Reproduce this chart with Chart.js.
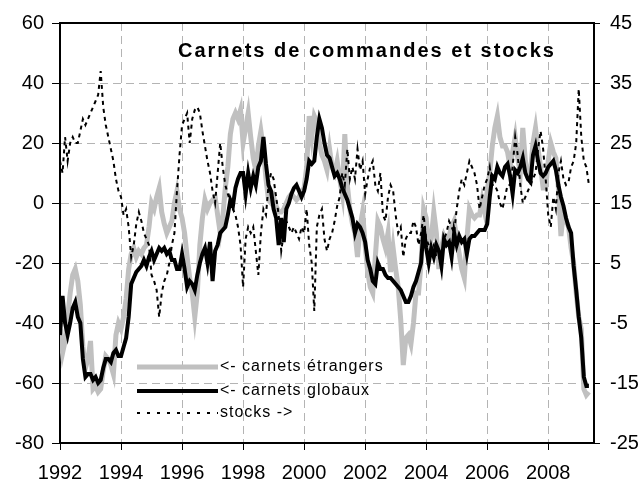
<!DOCTYPE html>
<html>
<head>
<meta charset="utf-8">
<script src="https://cdn.jsdelivr.net/npm/chart.js@4.4.0/dist/chart.umd.min.js"></script>
<style>
html, body { margin: 0; padding: 0; background: #fff; }
</style>
</head>
<body>
<canvas id="carnets_canvas" width="644" height="480"></canvas>
<script>
// monthly series, starting January 1992
var startYear = 1992;
var xTicks = [1992, 1994, 1996, 1998, 2000, 2002, 2004, 2006, 2008];
var leftTicks = [-80, -60, -40, -20, 0, 20, 40, 60];
var rightTicks = [-25, -15, -5, 5, 15, 25, 35, 45];
var titleText = 'Carnets de commandes et stocks';
var seriesNames = ['<- carnets étrangers', '<- carnets globaux', 'stocks ->'];

var etrangers = [
  -42, -50, -46, -38, -30, -24, -22, -26, -34, -48, -55, -52,
  -46, -62, -61, -63, -62, -56, -51, -52, -54, -57, -44, -40,
  -42, -38, -32, -22, -17, -15, -18, -16, -17, -15, -14, -8,
  0, -2, 2, 5, -3, -7, -10, -8, -6, 0, 4, -2,
  -5, -10, -18, -25, -30, -38, -30, -14, -5, 1, -2, 0,
  1, 2, -4, -10, -5, 5, 12, 23, 28, 30, 28, 31,
  20, 25, 30, 22, 15, 11, 19, 24, 18, 8, 1, 0,
  2, -1, -3, -3, -2, 0, 2, 3, 2, 1, 2, 4,
  5, 12, 29, 22, 29, 27, 20, 16, 14, 11, 18, 12,
  10, 14, 8, 3, 23, 6, -2, -7, -10, -18, -8, -3,
  -14, -23, -28, -30, -18, -6, -8, -12, -15, -10, -23, -15,
  -22, -28, -39, -54, -45, -44, -47, -40, -30, -30, -20, -2,
  -5, -15, -12, -3, -10, -22, -15, -11, -13, -11, -8, -6,
  -12, -17, -22, -25, -12, -2, -4, -5, -4, -4, 1, -3,
  4, 10, 19, 25, 29, 22, 19, 19, 17, 12, 17, 22,
  15, 10, 25, 14, 9, 10, 20, 25, 18, 12, 5, 5,
  14, 20, 17, 15, 5, -11, -3, -6, -8, -15, -20, -30,
  -38, -42, -62, -64, -63
];

var globaux = [
  -44, -31, -40, -44, -40, -35, -33, -38, -40, -52, -58, -57,
  -57, -59, -58, -60, -59, -55, -52, -52, -53, -50, -49, -51,
  -51, -48, -45, -38, -27, -25, -23, -22, -21, -19, -21, -18,
  -16, -19, -17, -15, -16, -15, -17, -16, -19, -19, -22, -22,
  -17, -22, -28, -26, -27, -29, -24, -20, -17, -15, -20, -13,
  -26, -16, -14, -10, -9, -8, -4, 1, -1, 5, 8, 10,
  10, 3, 10, 5, 9, 6, 12, 14, 22, 13, 6, 4,
  -2, -5, -14, -5, -13, -2, 0, 3, 5, 6, 4, 2,
  4, 8, 14, 13, 14, 22, 28, 25, 20, 16, 15, 12,
  9, 10, 8, 5, 3, 1, -2, -5, -10, -7, -8, -10,
  -13, -19, -22, -26, -27, -20, -22, -22, -24, -25, -25, -26,
  -27, -28, -29, -31, -33, -33, -31, -28, -26, -23, -20, -8,
  -15, -20, -15, -18, -14, -16, -21, -12, -14, -13, -18, -10,
  -14, -11, -13, -12, -17, -12, -11, -11, -10, -9, -9, -9,
  -7, 2, 9, 8, 12, 10, 9, 12, 13, 9, 3, 11,
  10, 12, 15, 10, 8, 7, 16, 19, 14, 10, 9, 10,
  12, 13, 14, 11, 6, 2, -1, -5, -8, -10, -21, -29,
  -38, -45, -58, -61, -61
];

var stocks = [
  22, 20, 26, 22, 25, 26, 25, 25, 27, 29, 28, 29,
  30, 31, 32, 33, 37, 31, 28, 26, 24, 22, 19, 17,
  16, 13, 14, 11, 6, 8, 11.5, 13.5, 12, 10, 9, 8,
  3, 2, 0.5, -4, 0, 2, 3, 5, 8, 10, 17, 23,
  28, 29, 30, 25, 29, 30.5, 31, 30, 27, 24.5, 22, 20,
  17, 15, 20, 25, 21, 18, 16.5, 15, 14, 13, 11, 8,
  1, 9, 11, 10, 11, 7, 3, 10, 14, 13, 18, 20,
  19, 16, 13, 7, 10, 12, 11, 10, 11, 10, 9, 11,
  10, 14, 8, 5, -3, 11, 13, 14, 9, 7, 9, 10,
  12, 14.5, 16, 20, 18, 24, 19, 21, 19, 24, 20.5, 22,
  16.5, 19, 21, 22, 18, 17, 20, 13, 12, 16, 18, 17,
  13, 10, 11, 6, 9, 10, 10, 12, 11, 8, 10, 13,
  9, 8, 7, 8, 6, 6, 5, 9, 10, 12, 11, 10,
  14, 17, 19, 18, 20, 22, 21, 20, 18, 14, 16, 18,
  19, 21, 18, 18, 17, 15, 14, 16, 18, 18, 21, 26,
  23, 18, 15, 16, 17, 18, 19, 20, 24, 27, 24, 19,
  13, 11, 16, 14, 20, 22, 19, 18, 18.5, 21, 22, 25,
  34, 26, 22, 21, 18
];

function toPoints(arr) {
  return arr.map(function (v, i) { return { x: startYear + i / 12, y: v }; });
}

var fontFamily = '"Liberation Sans", Arial, sans-serif';
Chart.defaults.font.family = fontFamily;
Chart.defaults.font.size = 20;
Chart.defaults.color = '#000';

var gridColor = '#b4b4b4';

// title, legend and top frame drawn inside the plot area
var decorPlugin = {
  id: 'decor',
  afterDraw: function (chart) {
    var ctx = chart.ctx;
    var a = chart.chartArea;
    ctx.save();
    ctx.setLineDash([]);
    ctx.strokeStyle = '#000';
    ctx.lineWidth = 2;
    ctx.beginPath();
    ctx.moveTo(a.left, a.top);
    ctx.lineTo(a.right, a.top);
    ctx.stroke();

    ctx.fillStyle = '#000';
    ctx.textAlign = 'left';
    ctx.textBaseline = 'middle';
    ctx.font = 'bold 20px ' + fontFamily;
    ctx.letterSpacing = '2px';
    ctx.fillText(titleText, a.left + 118, a.top + 28);

    ctx.font = '16px ' + fontFamily;
    ctx.letterSpacing = '1px';
    var rows = [a.top + 344, a.top + 368, a.top + 390];
    chart.data.datasets.forEach(function (ds, i) {
      var y = rows[i];
      ctx.save();
      ctx.strokeStyle = ds.borderColor;
      ctx.lineWidth = ds.borderWidth;
      ctx.setLineDash(i === 2 ? [3, 7] : []);
      ctx.beginPath();
      ctx.moveTo(a.left + 77, y);
      ctx.lineTo(a.left + 158, y);
      ctx.stroke();
      ctx.restore();
      ctx.fillText(seriesNames[i], a.left + 160, y);
    });
    ctx.restore();
  }
};

var ctx = document.getElementById('carnets_canvas').getContext('2d');
var chart = new Chart(ctx, {
  type: 'line',
  data: {
    datasets: [{
      label: seriesNames[0],
      data: toPoints(etrangers),
      yAxisID: 'y',
      borderColor: '#c0c0c0',
      borderWidth: 5,
      order: 3
    }, {
      label: seriesNames[1],
      data: toPoints(globaux),
      yAxisID: 'y',
      borderColor: '#000',
      borderWidth: 4,
      order: 2
    }, {
      label: seriesNames[2],
      data: toPoints(stocks),
      yAxisID: 'y1',
      borderColor: '#000',
      borderWidth: 2,
      borderDash: [4, 4],
      order: 1
    }]
  },
  options: {
    responsive: false,
    animation: false,
    layout: { padding: { top: 23, left: 0, right: 0, bottom: 0 } },
    elements: {
      point: { radius: 0 },
      line: { tension: 0, borderCapStyle: 'butt' }
    },
    plugins: {
      legend: { display: false },
      tooltip: { enabled: false }
    },
    scales: {
      x: {
        type: 'linear',
        min: 1992,
        max: 2009.5,
        afterBuildTicks: function (s) { s.ticks = xTicks.map(function (v) { return { value: v }; }); },
        afterFit: function (s) { s.height = 37; },
        ticks: {
          autoSkip: false,
          maxRotation: 0,
          padding: 11,
          callback: function (v) { return String(v); }
        },
        grid: { color: gridColor, lineWidth: 1, tickColor: '#000', tickLength: 7, tickWidth: 1, tickBorderDash: [] },
        border: { color: '#000', width: 2, dash: [8, 5] }
      },
      y: {
        position: 'left',
        min: -80,
        max: 60,
        afterBuildTicks: function (s) { s.ticks = leftTicks.map(function (v) { return { value: v }; }); },
        afterFit: function (s) { s.width = 60; },
        ticks: { padding: 8, callback: function (v) { return String(v); } },
        grid: { color: gridColor, lineWidth: 1, tickColor: '#000', tickLength: 8, tickWidth: 1, tickBorderDash: [] },
        border: { color: '#000', width: 2, dash: [8, 5] }
      },
      y1: {
        position: 'right',
        min: -25,
        max: 45,
        afterBuildTicks: function (s) { s.ticks = rightTicks.map(function (v) { return { value: v }; }); },
        afterFit: function (s) { s.width = 50; },
        ticks: { padding: 10, callback: function (v) { return String(v); } },
        grid: { drawOnChartArea: false, tickColor: '#000', tickLength: 6, tickWidth: 1, tickBorderDash: [] },
        border: { color: '#000', width: 2 }
      }
    }
  },
  plugins: [decorPlugin]
});
</script>
</body>
</html>
